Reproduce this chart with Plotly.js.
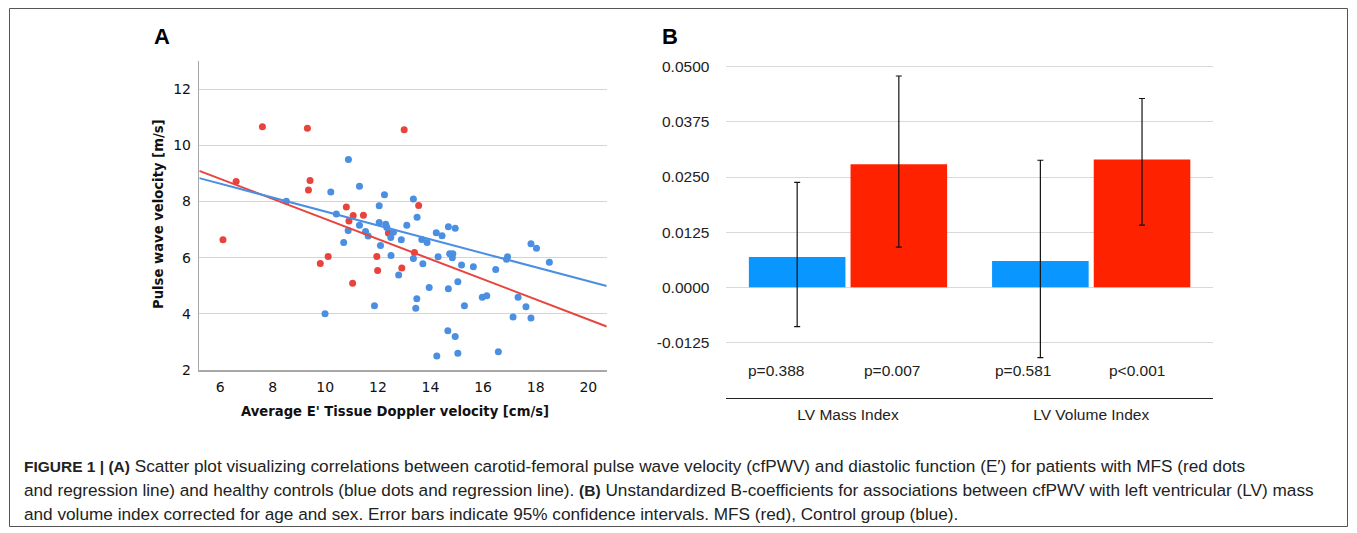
<!DOCTYPE html>
<html>
<head>
<meta charset="utf-8">
<script src="https://cdn.plot.ly/plotly-3.0.1.min.js"></script>
<style>
html,body{margin:0;padding:0;background:#fff;}
#chart{width:1357px;height:533px;}
</style>
</head>
<body>
<div id="chart"></div>
<script>
// ---------- Panel A data ----------
const mfsX = [6.61, 7.61, 9.32, 9.42, 9.36, 13.0, 13.55, 10.80, 11.06, 10.90, 11.45, 6.11, 9.81, 10.11, 11.04, 11.96, 11.99, 12.40, 12.91, 13.39];
const mfsY = [8.71, 10.66, 10.61, 8.75, 8.41, 10.55, 7.86, 7.80, 7.50, 7.30, 7.51, 6.64, 5.79, 6.04, 5.09, 6.04, 5.54, 6.88, 5.63, 6.18];
const ctrlX = [8.52, 10.88, 11.30, 10.21, 12.25, 12.05, 13.35, 13.49, 10.42, 11.30, 12.05, 12.30, 12.34, 13.10, 14.68, 14.94, 10.70, 10.87, 11.53, 11.63, 12.10, 12.49, 12.59, 12.50, 12.89, 12.79, 11.87, 9.99, 13.35, 13.71, 13.48, 13.44, 13.67, 13.87, 13.95, 14.22, 14.44, 14.29, 14.73, 14.85, 14.83, 14.68, 15.04, 15.18, 14.66, 14.94, 15.04, 14.24, 15.29, 15.63, 15.97, 16.14, 16.48, 16.58, 16.93, 16.89, 17.14, 17.33, 17.63, 17.82, 17.82, 18.03, 18.52];
const ctrlY = [8.01, 9.49, 8.54, 8.34, 8.24, 7.85, 8.09, 7.44, 7.55, 7.15, 7.25, 7.19, 7.07, 7.15, 7.10, 7.05, 6.54, 6.97, 6.93, 6.77, 6.43, 6.72, 6.90, 6.08, 6.64, 5.38, 4.29, 4.00, 5.97, 5.78, 4.54, 4.20, 6.65, 6.54, 4.94, 6.89, 6.78, 6.03, 6.14, 6.14, 6.00, 4.89, 5.14, 5.74, 3.40, 3.19, 2.60, 2.50, 4.29, 5.68, 4.59, 4.64, 5.58, 2.65, 6.03, 5.94, 3.89, 4.59, 4.25, 3.85, 6.49, 6.33, 5.84];
// regression line end points
const fitX = [5.21, 20.7];
const mfsFitY = [9.09, 3.55];
const ctrlFitY = [8.83, 4.99];
const aYTicks = [2, 4, 6, 8, 10, 12];
const aXTicks = [6, 8, 10, 12, 14, 16, 18, 20];
const aXTitle = 'Average E\' Tissue Doppler velocity [cm/s]';
const aYTitle = 'Pulse wave velocity [m/s]';

// ---------- Panel B data ----------
const categories = ['LV Mass Index', 'LV Volume Index'];
const ctrlB = [0.0069, 0.0060];
const ctrlLo = [-0.0089, -0.0159];
const ctrlHi = [0.0238, 0.0288];
const mfsB = [0.0279, 0.0290];
const mfsLo = [0.0091, 0.0141];
const mfsHi = [0.0479, 0.0428];
const ctrlP = ['p=0.388', 'p=0.581'];
const mfsP = ['p=0.007', 'p<0.001'];
const bYTicks = [-0.0125, 0, 0.0125, 0.025, 0.0375, 0.05];
const bYTickText = ['-0.0125', '0.0000', '0.0125', '0.0250', '0.0375', '0.0500'];

const W = 1357, H = 533;
const px = v => v / W;
const py = v => 1 - v / H;

const RED = '#E8433D', BLUE = '#4A8FE2';
const BARBLUE = '#0A96FF', BARRED = '#FF2200';

const traces = [
  {type:'scatter', mode:'markers', x:mfsX, y:mfsY, xaxis:'x', yaxis:'y',
   marker:{color:RED, size:7}, showlegend:false},
  {type:'scatter', mode:'markers', x:ctrlX, y:ctrlY, xaxis:'x', yaxis:'y',
   marker:{color:BLUE, size:7}, showlegend:false},
  {type:'scatter', mode:'lines', x:fitX, y:mfsFitY, xaxis:'x', yaxis:'y',
   line:{color:RED, width:2}, showlegend:false},
  {type:'scatter', mode:'lines', x:fitX, y:ctrlFitY, xaxis:'x', yaxis:'y',
   line:{color:BLUE, width:2}, showlegend:false},
  {type:'bar', x:categories, y:ctrlB, xaxis:'x2', yaxis:'y2', name:'Control',
   marker:{color:BARBLUE}, showlegend:false,
   error_y:{type:'data', symmetric:false,
     array:ctrlHi.map((h,i)=>h-ctrlB[i]), arrayminus:ctrlB.map((b,i)=>b-ctrlLo[i]),
     color:'#111', thickness:1.2, width:3}},
  {type:'bar', x:categories, y:mfsB, xaxis:'x2', yaxis:'y2', name:'MFS',
   marker:{color:BARRED}, showlegend:false,
   error_y:{type:'data', symmetric:false,
     array:mfsHi.map((h,i)=>h-mfsB[i]), arrayminus:mfsB.map((b,i)=>b-mfsLo[i]),
     color:'#111', thickness:1.2, width:3}}
];

const tickFontA = {family:'DejaVu Sans, sans-serif', size:14, color:'#111'};
const titleFontA = {family:'DejaVu Sans, sans-serif', size:13.2, color:'#111'};
const fontB = {family:'Liberation Sans, Arial, sans-serif', size:15.5, color:'#222'};

const annotations = [
  {xref:'paper', yref:'paper', x:px(162), y:py(36), text:'<b>A</b>', showarrow:false,
   font:{family:'Liberation Sans, Arial, sans-serif', size:22, color:'#000'}, xanchor:'center', yanchor:'middle'},
  {xref:'paper', yref:'paper', x:px(670), y:py(36), text:'<b>B</b>', showarrow:false,
   font:{family:'Liberation Sans, Arial, sans-serif', size:22, color:'#000'}, xanchor:'center', yanchor:'middle'},
  {xref:'paper', yref:'paper', x:px(395), y:py(411), text:'<b>' + aXTitle + '</b>', showarrow:false,
   font:titleFontA, xanchor:'center', yanchor:'middle'},
  {xref:'paper', yref:'paper', x:px(158), y:py(214), text:'<b>' + aYTitle + '</b>', showarrow:false,
   font:titleFontA, xanchor:'center', yanchor:'middle', textangle:-90}
];
// p-value labels
const pOffsetsCtrl = [-0.419, -0.403];
const pOffsetsMfs = [0.058, 0.065];
for (let i = 0; i < categories.length; i++) {
  annotations.push({xref:'x2', yref:'y2', x:i + pOffsetsCtrl[i], y:-0.0189, text:ctrlP[i],
    showarrow:false, xanchor:'left', yanchor:'middle', font:fontB});
  annotations.push({xref:'x2', yref:'y2', x:i + pOffsetsMfs[i], y:-0.0189, text:mfsP[i],
    showarrow:false, xanchor:'left', yanchor:'middle', font:fontB});
}
// caption
const capFont = {family:'Liberation Sans, Arial, sans-serif', size:17.2, color:'#222'};
const B = s => '<span style="font-size:15.5px"><b>' + s + '</b></span>';
const capLines = [
  B('FIGURE 1 | (A)') + ' Scatter plot visualizing correlations between carotid-femoral pulse wave velocity (cfPWV) and diastolic function (E′) for patients with MFS (red dots',
  'and regression line) and healthy controls (blue dots and regression line). ' + B('(B)') + ' Unstandardized B-coefficients for associations between cfPWV with left ventricular (LV) mass',
  'and volume index corrected for age and sex. Error bars indicate 95% confidence intervals. MFS (red), Control group (blue).'
];
const capY = [466, 490, 514];
capLines.forEach((t, i) => annotations.push({xref:'paper', yref:'paper', x:px(22), y:py(capY[i]), text:t,
  showarrow:false, xanchor:'left', yanchor:'middle', align:'left', font:capFont}));

const layout = {
  width:W, height:H,
  margin:{l:0, r:0, t:0, b:0},
  paper_bgcolor:'#fff', plot_bgcolor:'#fff',
  showlegend:false,
  barmode:'group', bargap:0.164, bargroupgap:0.05,
  xaxis:{domain:[px(199.3), px(606.7)], range:[5.21, 20.7], anchor:'y',
    tickvals:aXTicks, ticks:'', showgrid:false, zeroline:false,
    showline:true, linecolor:'#a8a8a8', linewidth:1.5,
    tickfont:tickFontA, ticklabelstandoff:4},
  yaxis:{domain:[py(370), py(61)], range:[2, 13], anchor:'x',
    tickvals:aYTicks, ticks:'', showgrid:true, gridcolor:'#d4d4d4', gridwidth:1, zeroline:false,
    showline:true, linecolor:'#a8a8a8', linewidth:1.5,
    tickfont:tickFontA, ticklabelstandoff:4},
  xaxis2:{domain:[px(726.4), px(1212.8)], range:[-0.5, 1.5], anchor:'y2', type:'category',
    ticks:'', showgrid:false, zeroline:false,
    showline:true, linecolor:'#222', linewidth:1.5,
    tickfont:fontB, ticklabelstandoff:2},
  yaxis2:{domain:[py(397.7), py(62.3)], range:[-0.025, 0.051], anchor:'x2',
    tickvals:bYTicks, ticktext:bYTickText, ticks:'', showgrid:true, gridcolor:'#d9d9d9', gridwidth:1,
    zeroline:false, showline:false,
    tickfont:fontB, ticklabelstandoff:16},
  annotations:annotations,
  shapes:[
    {type:'rect', xref:'paper', yref:'paper', x0:px(9.5), x1:px(1347.5), y0:py(526.5), y1:py(8.5),
     line:{color:'#555', width:1}, fillcolor:'rgba(0,0,0,0)'}
  ]
};

Plotly.newPlot('chart', traces, layout, {displayModeBar:false, staticPlot:true});
</script>
</body>
</html>
